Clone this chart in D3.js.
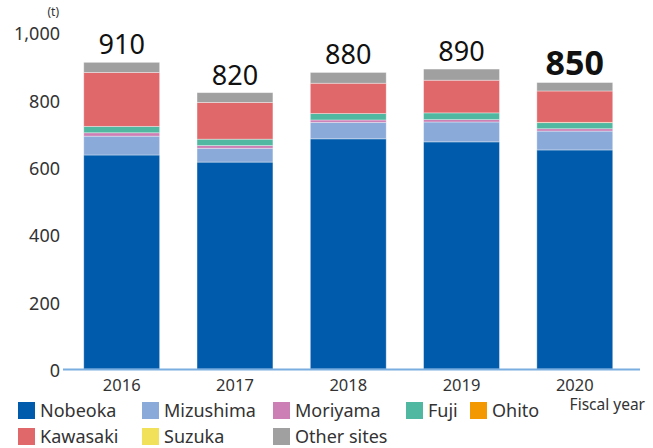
<!DOCTYPE html>
<html>
<head>
<meta charset="utf-8">
<script src="https://cdn.jsdelivr.net/npm/d3@7"></script>
<style>
  html, body { margin: 0; padding: 0; background: #fff; }
  svg { display: block; font-family: "Noto Sans", "DejaVu Sans", sans-serif; }
</style>
</head>
<body>
<svg id="chart" width="653" height="448"></svg>
<script>
// Fiscal years on the x axis
const years = ["2016", "2017", "2018", "2019", "2020"];

// Sites, stacked bottom to top
const sites = ["Nobeoka", "Mizushima", "Moriyama", "Fuji", "Ohito", "Kawasaki", "Suzuka", "Other sites"];

// Amount per site (t), one value per fiscal year
const nobeoka    = [635, 614, 683, 674, 650];
const mizushima  = [56, 41, 49, 59, 56];
const moriyama   = [10, 8, 7, 7, 7];
const fuji       = [19, 19, 19, 20, 18];
const ohito      = [0, 0, 0, 0, 1];
const kawasaki   = [160, 109, 90, 97, 93];
const suzuka     = [0, 0, 0, 0, 0];
const otherSites = [30, 29, 32, 33, 25];

// Totals shown above the bars
const totals = [910, 820, 880, 890, 850];

const yTicks = [0, 200, 400, 600, 800, 1000];

const siteColors = ["#005bac", "#8aaad9", "#cc7fb5", "#50b7a0", "#f39800", "#e1686a", "#f1e05a", "#a0a0a0"];

const seriesValues = [nobeoka, mizushima, moriyama, fuji, ohito, kawasaki, suzuka, otherSites];

const rows = years.map((y, i) => {
  const r = { year: y };
  sites.forEach((s, k) => { r[s] = seriesValues[k][i]; });
  return r;
});

const svg = d3.select("#chart");

const x = d3.scaleBand()
  .domain(years)
  .range([64.5, 632])
  .paddingInner(0.33)
  .paddingOuter(0.17);

const y = d3.scaleLinear().domain([0, 1000]).range([369, 32]);

const color = d3.scaleOrdinal().domain(sites).range(siteColors);

const stacked = d3.stack().keys(sites)(rows);

// Stacked bars
svg.append("g")
  .selectAll("g")
  .data(stacked)
  .join("g")
  .attr("fill", d => color(d.key))
  .selectAll("rect")
  .data(d => d)
  .join("rect")
  .attr("x", d => x(d.data.year))
  .attr("width", x.bandwidth())
  .attr("y", d => y(d[1]))
  .attr("height", d => Math.max(0, y(d[0]) - y(d[1])))
  .attr("stroke", "rgba(255,255,255,0.45)")
  .attr("stroke-width", 0.8);

// Baseline
svg.append("line")
  .attr("x1", 63).attr("x2", 640)
  .attr("y1", y(0) + 0.5).attr("y2", y(0) + 0.5)
  .attr("stroke", "#7aaee0")
  .attr("stroke-width", 2.2);

// Y axis labels (no axis line)
const yAxis = d3.axisLeft(y)
  .tickValues(yTicks)
  .tickFormat(d3.format(","))
  .tickSize(0)
  .tickPadding(0);

const yg = svg.append("g")
  .attr("transform", "translate(60,2)")
  .call(yAxis);
yg.select(".domain").remove();
yg.selectAll("text")
  .attr("font-size", 18)
  .attr("font-family", "Noto Sans, sans-serif")
  .attr("fill", "#333");

svg.append("text")
  .attr("x", 59).attr("y", 16)
  .attr("text-anchor", "end")
  .attr("font-size", 12)
  .attr("fill", "#333")
  .text("(t)");

// X axis labels
const xAxis = d3.axisBottom(x).tickSize(0).tickPadding(0);
const xg = svg.append("g")
  .attr("transform", "translate(0,376)")
  .call(xAxis);
xg.select(".domain").remove();
xg.selectAll("text")
  .attr("font-size", 16.5)
  .attr("font-family", "Noto Sans, sans-serif")
  .attr("fill", "#333")
  .attr("dy", "0.9em");

svg.append("text")
  .attr("x", 645).attr("y", 410)
  .attr("text-anchor", "end")
  .attr("font-size", 15.5)
  .attr("fill", "#333")
  .text("Fiscal year");

// Totals above bars
svg.append("g")
  .selectAll("text")
  .data(years)
  .join("text")
  .attr("x", d => x(d) + x.bandwidth() / 2)
  .attr("y", (d, i) => y(totals[i]) - 8)
  .attr("text-anchor", "middle")
  .attr("font-size", (d, i) => i === years.length - 1 ? 34 : 27)
  .attr("font-weight", (d, i) => i === years.length - 1 ? "bold" : "normal")
  .attr("fill", "#111")
  .text((d, i) => totals[i]);

// Legend
const legendPos = [
  [18, 402], [142, 402], [273, 402], [406, 402], [470, 402],
  [18, 428], [142, 428], [273, 428]
];
const lg = svg.append("g")
  .selectAll("g")
  .data(sites)
  .join("g")
  .attr("transform", (d, i) => `translate(${legendPos[i][0]},${legendPos[i][1]})`);
lg.append("rect")
  .attr("width", 17).attr("height", 17)
  .attr("fill", d => color(d));
lg.append("text")
  .attr("x", 22).attr("y", 14.5)
  .attr("font-size", 18)
  .attr("fill", "#333")
  .text(d => d);
</script>
</body>
</html>
